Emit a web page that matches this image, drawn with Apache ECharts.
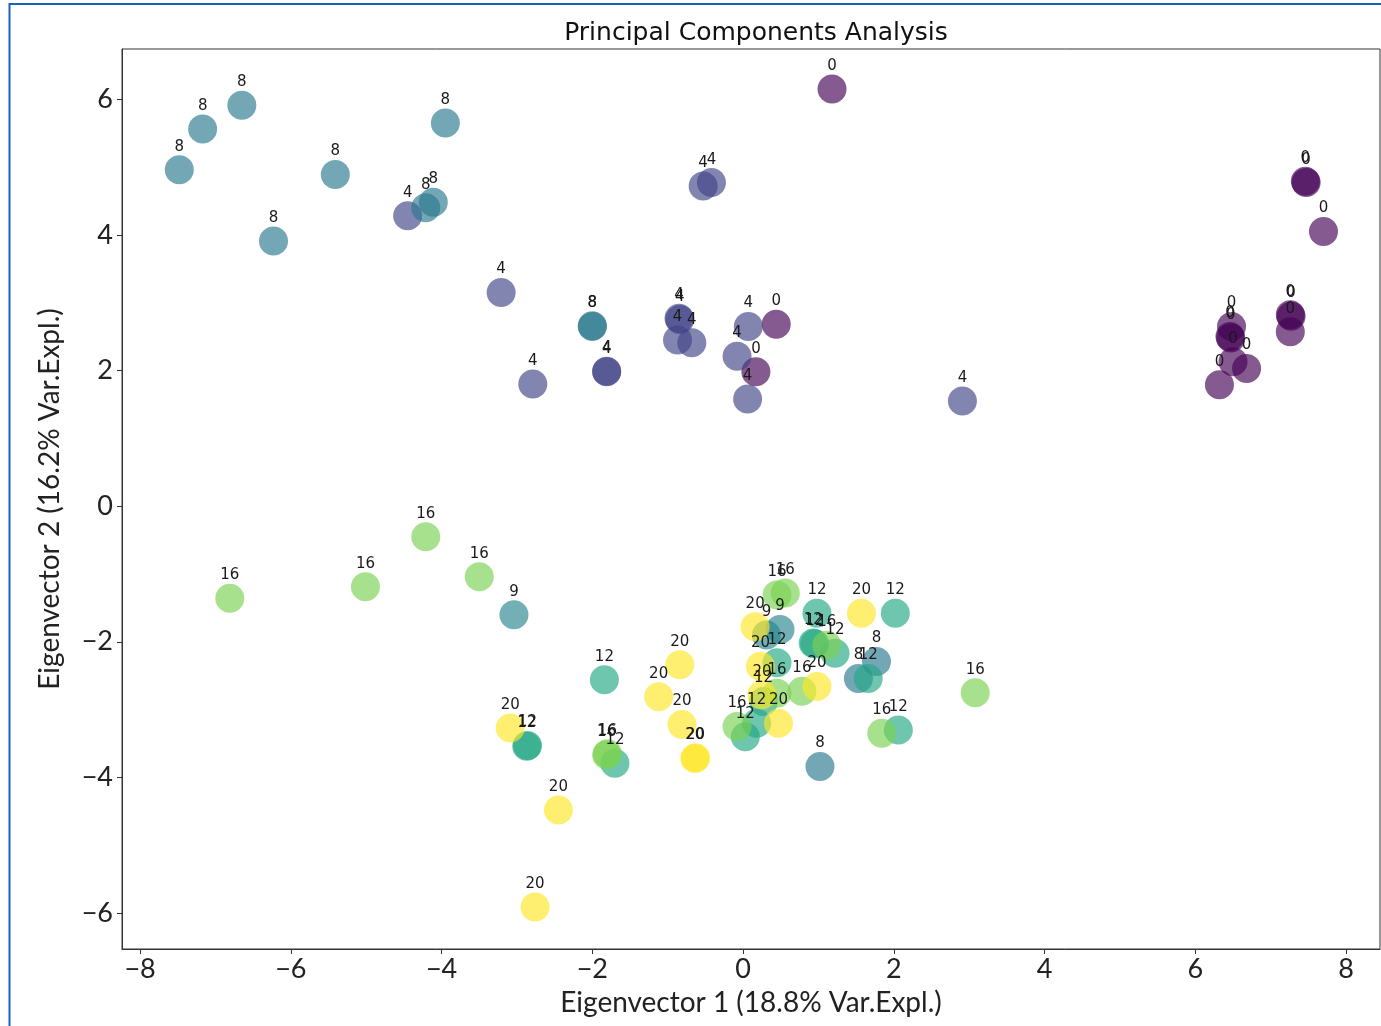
<!DOCTYPE html>
<html>
<head>
<meta charset="utf-8">
<script src="https://cdn.jsdelivr.net/npm/echarts@6/dist/echarts.min.js"></script>
<style>
html,body{margin:0;padding:0;background:#fff;}
#chart{width:1381px;height:1026px;}
</style>
</head>
<body>
<div id="chart"></div>
<script>
// Data: [x, y] per group
var groups = [0, 4, 8, 9, 12, 16, 20];
var pts0 = [[1.18,6.15],[7.46,4.79],[7.47,4.77],[7.70,4.05],[7.26,2.82],[7.27,2.80],[7.26,2.57],[6.46,2.50],[6.47,2.48],[6.48,2.65],[6.50,2.13],[6.68,2.03],[6.32,1.79],[0.44,2.68],[0.17,1.98]];
var pts4 = [[-4.45,4.28],[-0.53,4.72],[-0.42,4.77],[-3.21,3.15],[-2.79,1.80],[-1.81,1.98],[-1.81,1.99],[-0.85,2.77],[-0.84,2.75],[-0.87,2.45],[-0.68,2.41],[0.07,2.65],[-0.08,2.21],[0.06,1.58],[2.91,1.55]];
var pts8 = [[-7.48,4.96],[-7.17,5.56],[-6.65,5.91],[-6.23,3.91],[-5.41,4.89],[-3.95,5.65],[-4.21,4.40],[-4.11,4.48],[-2.00,2.65],[-2.00,2.66],[1.77,-2.29],[1.53,-2.54],[1.02,-3.84]];
var pts9 = [[-3.04,-1.60],[0.31,-1.90],[0.49,-1.82]];
var pts12 = [[-1.84,-2.56],[-2.87,-3.54],[-2.86,-3.53],[-1.70,-3.79],[0.98,-1.58],[2.02,-1.58],[0.93,-2.02],[0.95,-2.03],[1.22,-2.17],[0.45,-2.31],[1.66,-2.54],[0.27,-2.88],[0.18,-3.20],[0.03,-3.40],[2.06,-3.30]];
var pts16 = [[-6.81,-1.36],[-5.01,-1.19],[-4.21,-0.45],[-3.50,-1.04],[-1.81,-3.67],[-1.80,-3.65],[0.45,-1.31],[0.56,-1.28],[1.11,-2.05],[0.78,-2.73],[0.45,-2.76],[-0.08,-3.25],[1.84,-3.35],[3.08,-2.75]];
var pts20 = [[-3.09,-3.27],[-2.45,-4.48],[-2.76,-5.91],[-0.84,-2.34],[-1.12,-2.81],[-0.81,-3.22],[-0.64,-3.72],[-0.63,-3.71],[0.16,-1.78],[1.57,-1.58],[0.23,-2.36],[0.98,-2.66],[0.25,-2.78],[0.47,-3.20]];
var xTicks = [-8, -6, -4, -2, 0, 2, 4, 6, 8];
var yTicks = [-6, -4, -2, 0, 2, 4, 6];

var allPts = [pts0, pts4, pts8, pts9, pts12, pts16, pts20];
var data = [];
allPts.forEach(function (arr, gi) {
  arr.forEach(function (p) { data.push([p[0], p[1], groups[gi]]); });
});

var viridis = ['#440154','#482475','#414487','#355f8d','#2a788e','#21918c','#22a884','#44bf70','#7ad151','#bddf26','#fde725'];
function fmt(v) { return String(v).replace('-', '\u2212'); }
var tickFont = 'Lato, "Open Sans", sans-serif';

var chart = echarts.init(document.getElementById('chart'), null, {renderer: 'canvas'});
chart.setOption({
  animation: false,
  backgroundColor: '#fff',
  title: {
    text: 'Principal Components Analysis',
    left: 751, top: 16, textAlign: 'center',
    textStyle: {fontFamily: '"DejaVu Sans"', fontSize: 25, fontWeight: 'normal', color: '#111'}
  },
  graphic: [{
    type: 'rect', silent: true, z: 100,
    shape: {x: 9.5, y: 4, width: 1500, height: 1200},
    style: {fill: null, stroke: '#1c5fbd', lineWidth: 2}
  }],
  grid: {left: 122, top: 49, right: 1, bottom: 77, show: true, borderColor: '#333', borderWidth: 1, backgroundColor: 'transparent'},
  visualMap: {
    show: false, type: 'continuous', dimension: 2, min: 0, max: 20,
    inRange: {color: viridis}
  },
  xAxis: {
    type: 'value', min: -8.24, max: 8.45,
    name: 'Eigenvector 1 (18.8% Var.Expl.)', nameLocation: 'middle', nameGap: 40,
    nameTextStyle: {fontFamily: tickFont, fontSize: 28, color: '#222'},
    splitLine: {show: false},
    axisLine: {onZero: false, lineStyle: {color: '#333'}},
    axisTick: {show: true, length: 5, customValues: xTicks, lineStyle: {color: '#333'}},
    axisLabel: {customValues: xTicks, formatter: fmt, fontFamily: tickFont, fontSize: 27, color: '#222', margin: 7}
  },
  yAxis: {
    type: 'value', min: -6.53, max: 6.74,
    name: 'Eigenvector 2 (16.2% Var.Expl.)', nameLocation: 'middle', nameGap: 58,
    nameTextStyle: {fontFamily: tickFont, fontSize: 28, color: '#222'},
    splitLine: {show: false},
    axisLine: {onZero: false, lineStyle: {color: '#333'}},
    axisTick: {show: true, length: 5, customValues: yTicks, lineStyle: {color: '#333'}},
    axisLabel: {customValues: yTicks, formatter: fmt, fontFamily: tickFont, fontSize: 27, color: '#222', margin: 9}
  },
  series: [{
    type: 'scatter',
    data: data,
    symbolSize: 29,
    itemStyle: {opacity: 0.65},
    label: {
      show: true, position: 'top', distance: 1, opacity: 1,
      formatter: function (p) { return String(p.value[2]); },
      fontFamily: '"DejaVu Sans"', fontSize: 15, color: '#1a1a1a'
    },
    labelLayout: {hideOverlap: false}
  }]
});
</script>
</body>
</html>
